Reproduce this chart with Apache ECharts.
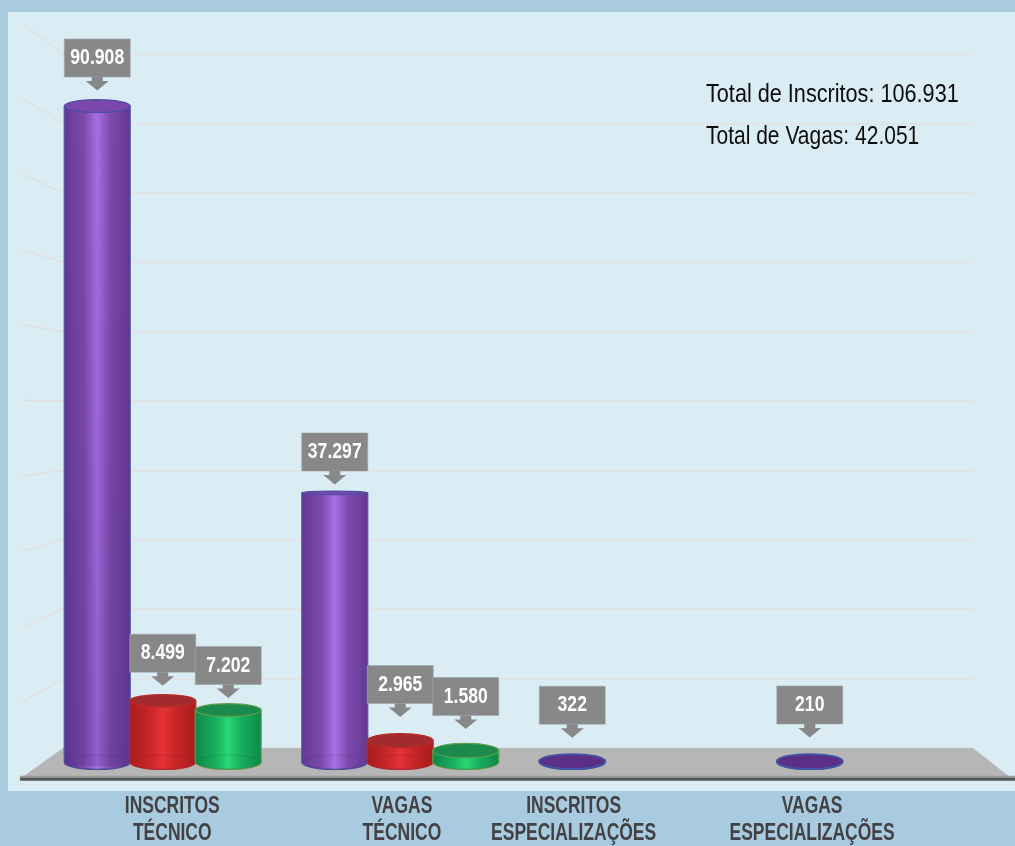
<!DOCTYPE html>
<html>
<head>
<meta charset="utf-8">
<style>html,body{margin:0;padding:0;background:#a9cbe0}#c{width:1015px;height:846px}</style>
<script src="https://cdn.jsdelivr.net/npm/echarts@6/dist/echarts.min.js"></script>
</head>
<body>
<div id="c"></div>
<script>
// ---- data ----
const categories = ['INSCRITOS\nTÉCNICO', 'VAGAS\nTÉCNICO', 'INSCRITOS\nESPECIALIZAÇÕES', 'VAGAS\nESPECIALIZAÇÕES'];
const purpleValues = [90908, 37297, 322, 210];
const redValues = [8499, 2965, null, null];
const greenValues = [7202, 1580, null, null];
const wallTicks = [10000, 20000, 30000, 40000, 50000, 60000, 70000, 80000, 90000, 100000];
const summaryLines = ['Total de Inscritos: 106.931', 'Total de Vagas: 42.051'];

// ---- layout / style (not data) ----
const labelSlots = [0.54, 1.507, 2.23, 3.234];
const purpleGaps = [15.5, 8.4, 22, 23];
const redGaps = [15, 23.6];
const greenGaps = [12, 21.6];
const HORIZON = 409, DEPTH = 1.088, FLAT = 0.0212, BAR_W = 66, SERIES_STEP = 65.5;
const SANS = '"Liberation Sans",sans-serif';

const themes = {
  purple: {edge:'#623a94', soft:'#7d4aad', mid:'#a86fe2', rim:'#4a4f9f', top:'#7b47ae', flatTop:'#5a2f85', flatRim:'#3f55a6'},
  red: {edge:'#a81d1d', soft:'#c72628', mid:'#e53234', rim:'#bb2a2a', top:'#a32b2e', flatTop:'#a32b2e', flatRim:'#c22a2a'},
  green: {edge:'#0d8a4a', soft:'#18ad5e', mid:'#27d873', rim:'#5fa04c', top:'#1b8a4c', flatTop:'#1b8a4c', flatRim:'#7fb050'}
};

function sideFill(t) {
  return {type:'linear', x:0, y:0, x2:1, y2:0, colorStops:[
    {offset:0, color:t.edge}, {offset:0.3, color:t.soft}, {offset:0.5, color:t.mid}, {offset:0.7, color:t.soft}, {offset:1, color:t.edge}]};
}

function cylinder(themeName, offset) {
  const t = themes[themeName];
  return function (params, api) {
    const top = api.coord([api.value(0), api.value(1)]);
    const base = api.coord([api.value(0), 0]);
    const x = top[0] + offset;
    const gap = api.value(2);
    const ryOf = y => FLAT * Math.abs(y - HORIZON);
    const rx = BAR_W / 2;
    const h = base[1] - top[1];
    const flat = h < 8;
    const apex = top[1] - gap;
    const children = [];
    children.push({type:'ellipse', shape:{cx:x, cy:base[1], rx:rx, ry:ryOf(base[1])},
      style:{fill:sideFill(t), stroke:t.rim, lineWidth:1.2}});
    children.push({type:'rect', shape:{x:x - rx, y:top[1], width:BAR_W, height:h},
      style:{fill:sideFill(t)}});
    if (h > 300) {
      children.push({type:'rect', shape:{x:x - rx, y:top[1], width:BAR_W, height:h + 4},
        style:{fill:{type:'linear', x:0, y:0, x2:0, y2:1, colorStops:[
          {offset:0, color:'rgba(60,30,110,0)'}, {offset:1, color:'rgba(60,30,110,0.2)'}]}}});
    }
    children.push({type:'line', shape:{x1:x - rx, y1:top[1], x2:x - rx, y2:base[1]}, style:{stroke:t.rim, lineWidth:1.5, opacity:0.7}});
    children.push({type:'line', shape:{x1:x + rx, y1:top[1], x2:x + rx, y2:base[1]}, style:{stroke:t.rim, lineWidth:1.5, opacity:0.7}});
    if (!flat) {
      children.push({type:'ellipse', shape:{cx:x, cy:base[1], rx:rx - 1, ry:ryOf(base[1]) - 0.5},
        style:{fill:'none', stroke:'rgba(60,20,60,0.14)', lineWidth:1}});
    }
    children.push({type:'ellipse', shape:{cx:x, cy:flat ? base[1] - 0.5 : top[1], rx:rx, ry:ryOf(top[1])},
      style:{fill: flat ? t.flatTop : t.top, stroke: flat ? t.flatRim : t.rim, lineWidth: flat ? 1.8 : 1.2}});
    // callout
    const cx = x;
    const fill = '#888888';
    children.push({type:'rect', shape:{x:cx - 33, y:apex - 51.5, width:66, height:38},
      style:{fill:fill, stroke:'#a0a7aa', lineWidth:0.6}, z2:20});
    children.push({type:'polygon', shape:{points:[[cx - 5.5, apex - 13.5], [cx + 5.5, apex - 13.5], [cx + 5.5, apex - 9.5], [cx + 11.5, apex - 9.5], [cx, apex], [cx - 11.5, apex - 9.5], [cx - 5.5, apex - 9.5]]},
      style:{fill:fill}, z2:20});
    children.push({type:'text', x:cx, y:apex - 32.5, scaleX:0.8,
      style:{text:fmt(api.value(1)), fill:'#ffffff', font:'bold 22px ' + SANS, align:'center', verticalAlign:'middle'}, z2:21});
    return {type:'group', children:children};
  };
}

function fmt(v) { return String(v).replace(/\B(?=(\d{3})+$)/g, '.'); }

function cylinderData(values, gaps) {
  return values.map((v, i) => v == null ? null : [i, v, gaps[i]]).filter(Boolean);
}

function wallLine(params, api) {
  const p = api.coord([0, api.value(0)]);
  const y2 = HORIZON + (p[1] - HORIZON) * DEPTH;
  return {type:'line', shape:{x1:p[0], y1:p[1], x2:22, y2:y2}, style:{stroke:'#e2dfe0', lineWidth:1.5}};
}

function floorShape(params, api) {
  const bl = api.coord([0, 0]), br = api.coord([1, 0]);
  const fy = HORIZON + (bl[1] - HORIZON) * DEPTH;
  return {type:'group', children:[
    {type:'polygon', shape:{points:[bl, br, [1012, fy + 1], [20, fy + 1]]}, style:{fill:'#b6b6b6'}},
    {type:'rect', shape:{x:20, y:fy - 2, width:995, height:2}, style:{fill:'#9a9a9a'}},
    {type:'rect', shape:{x:20, y:fy, width:995, height:3}, style:{fill:'#565656'}}
  ]};
}

function categoryLabel(params, api) {
  const p = api.coord([api.value(0), 0]);
  return {type:'text', x:p[0], y:p[1] + 58, scaleX:0.76,
    style:{text:categories[params.dataIndex], fill:'#434143', font:'bold 23px ' + SANS, lineHeight:27, align:'center', verticalAlign:'middle'}};
}

const chart = echarts.init(document.getElementById('c'), null, {renderer:'canvas'});
chart.setOption({
  animation:false,
  backgroundColor:'#a9cbe0',
  graphic:{elements:[
    {type:'rect', z:-10, silent:true, shape:{x:8, y:12, width:1007, height:779}, style:{fill:'#dbedf4'}},
    {type:'text', z:50, x:706, y:95, scaleX:0.866, style:{text:summaryLines[0], fill:'#0c0c0c', font:'25px ' + SANS, verticalAlign:'middle'}},
    {type:'text', z:50, x:706, y:137, scaleX:0.84, style:{text:summaryLines[1], fill:'#0c0c0c', font:'25px ' + SANS, verticalAlign:'middle'}}
  ]},
  grid:[
    {left:63, top:54, width:910, height:694},
    {left:44, top:40.4, width:950, height:721.6}
  ],
  xAxis:[
    {gridIndex:0, type:'value', min:0, max:1, show:false},
    {gridIndex:1, type:'category', data:categories, show:false},
    {gridIndex:1, type:'value', min:0, max:4, show:false}
  ],
  yAxis:[
    {gridIndex:0, type:'value', min:0, max:100000, interval:10000, axisLine:{show:false}, axisTick:{show:false},
      axisLabel:{show:false}, splitLine:{show:true, lineStyle:{color:'#e2e0e0', width:1.5}}},
    {gridIndex:1, type:'value', min:0, max:100000, show:false}
  ],
  series:[
    {type:'custom', name:'Parede', xAxisIndex:0, yAxisIndex:0, z:1, silent:true, clip:false, renderItem:wallLine,
      data:wallTicks.map(v => [v]), encode:{y:0}},
    {type:'custom', name:'Piso', xAxisIndex:0, yAxisIndex:0, z:2, silent:true, clip:false, renderItem:floorShape,
      data:[[0, 0]]},
    {type:'custom', name:'Roxo', xAxisIndex:1, yAxisIndex:1, z:3, clip:false, renderItem:cylinder('purple', -SERIES_STEP),
      data:cylinderData(purpleValues, purpleGaps), encode:{x:0, y:1}},
    {type:'custom', name:'Vermelho', xAxisIndex:1, yAxisIndex:1, z:4, clip:false, renderItem:cylinder('red', 0),
      data:cylinderData(redValues, redGaps), encode:{x:0, y:1}},
    {type:'custom', name:'Verde', xAxisIndex:1, yAxisIndex:1, z:5, clip:false, renderItem:cylinder('green', SERIES_STEP),
      data:cylinderData(greenValues, greenGaps), encode:{x:0, y:1}},
    {type:'custom', name:'Rótulos', xAxisIndex:2, yAxisIndex:1, z:6, silent:true, clip:false, renderItem:categoryLabel,
      data:labelSlots.map(v => [v]), encode:{x:0}}
  ]
});
</script>
</body>
</html>
